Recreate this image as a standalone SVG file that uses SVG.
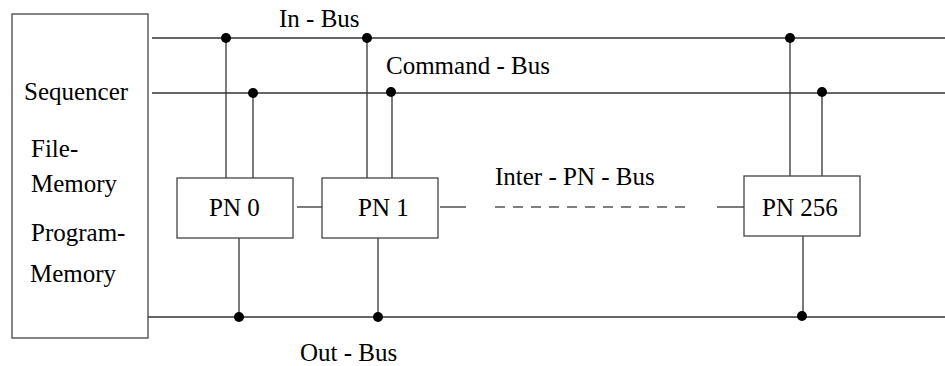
<svg xmlns="http://www.w3.org/2000/svg" width="945" height="366" viewBox="0 0 945 366">
<style>
.box{fill:#fff;stroke:#444;stroke-width:1.3}
.ln{stroke:#333;stroke-width:1.3;fill:none}
.dash{stroke:#555;stroke-width:1.3;stroke-dasharray:10 8;fill:none}
.dot{fill:#000}
</style>
<g id="connectors">
<line class="ln" x1="152" y1="38" x2="945" y2="38"/>
<line class="ln" x1="152" y1="93" x2="945" y2="93"/>
<line class="ln" x1="148" y1="317" x2="945" y2="317"/>
<line class="ln" x1="226" y1="38" x2="226" y2="178"/>
<line class="ln" x1="253" y1="93" x2="253" y2="178"/>
<line class="ln" x1="239" y1="238" x2="239" y2="317"/>
<line class="ln" x1="367" y1="38" x2="367" y2="178"/>
<line class="ln" x1="392" y1="93" x2="392" y2="178"/>
<line class="ln" x1="378" y1="238" x2="378" y2="317"/>
<line class="ln" x1="790" y1="38" x2="790" y2="176"/>
<line class="ln" x1="822" y1="93" x2="822" y2="176"/>
<line class="ln" x1="803" y1="236" x2="803" y2="317"/>
<line class="ln" x1="297" y1="207" x2="322" y2="207"/>
<line class="ln" x1="440" y1="207" x2="466" y2="207"/>
<line class="dash" x1="495" y1="207" x2="687" y2="207"/>
<line class="ln" x1="717" y1="207" x2="744" y2="207"/>
<circle class="dot" cx="226" cy="38" r="5"/>
<circle class="dot" cx="253" cy="93" r="5"/>
<circle class="dot" cx="239" cy="317" r="5"/>
<circle class="dot" cx="367" cy="38" r="5"/>
<circle class="dot" cx="391" cy="92" r="5"/>
<circle class="dot" cx="378" cy="317" r="5"/>
<circle class="dot" cx="790" cy="38" r="5"/>
<circle class="dot" cx="822" cy="92" r="5"/>
<circle class="dot" cx="802" cy="316" r="5"/>
</g>
<g font-family="Liberation Serif, Times New Roman, serif" font-size="25" fill="#000">
<g id="sequencer">
<rect class="box" x="12" y="14" width="136" height="324"/>
<text x="24" y="100">Sequencer</text>
<text x="31" y="157">File-</text>
<text x="31" y="192">Memory</text>
<text x="31" y="241">Program-</text>
<text x="30" y="282">Memory</text>
</g>
<g id="pn0">
<rect class="box" x="177" y="178" width="116" height="60"/>
<text x="209" y="216">PN 0</text>
</g>
<g id="pn1">
<rect class="box" x="322" y="178" width="116" height="60"/>
<text x="358" y="216">PN 1</text>
</g>
<g id="pn256">
<rect class="box" x="744" y="176" width="116" height="60"/>
<text x="762" y="216">PN 256</text>
</g>
<g id="labels">
<text x="279" y="27">In - Bus</text>
<text x="386" y="74">Command - Bus</text>
<text x="495" y="185">Inter - PN - Bus</text>
<text x="300" y="361">Out - Bus</text>
</g>
</g>
</svg>
